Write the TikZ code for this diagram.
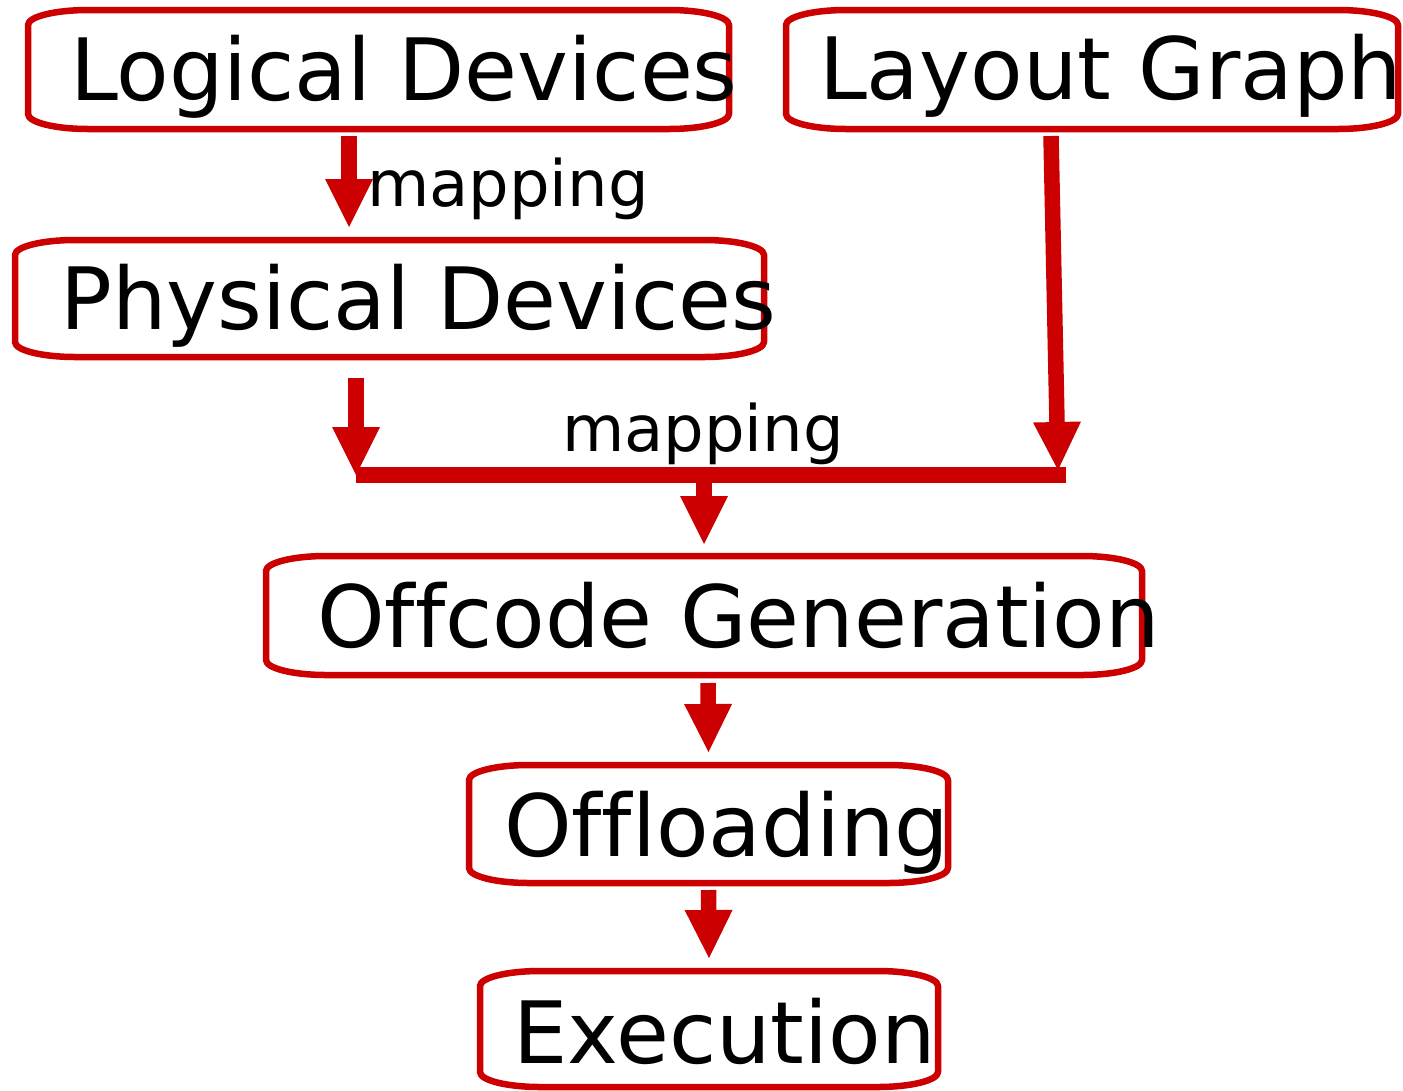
\documentclass[tikz,border=0pt]{standalone}
\usepackage{fontspec}
\setmainfont[Ligatures={NoCommon}]{DejaVu Sans}
\usetikzlibrary{arrows.meta,calc}
\definecolor{dred}{HTML}{CC0000}
\tikzset{
  boxline/.style={draw=dred, line width=6.5pt, line join=round},
  bigtext/.style={inner sep=0pt, outer sep=0pt, anchor=base west, text=black, font=\fontsize{86}{100}\selectfont},
  smalltext/.style={inner sep=0pt, outer sep=0pt, anchor=base west, text=black, font=\fontsize{64}{76}\selectfont},
  flow/.style={draw=dred, line width=15.5pt, -{Triangle[width=48pt,length=48pt,line width=0pt]}},
  barline/.style={draw=dred, line width=16pt},
}
% elliptical-cornered box: name, x1, y1, x2, y2 (y grows downward)
\newcommand\ebox[5]{%
  \pgfmathsetmacro\eboxw{#4-#2}%
  \pgfmathsetmacro\eboxh{#5-#3}%
  \node[inner sep=0pt, outer sep=0pt, minimum width=\eboxw pt, minimum height=\eboxh pt] (#1) at ({(#2+#4)/2},{(#3+#5)/2}) {};
  \draw[boxline] (#2,{#3+15}) -- (#2,{#5-15})
     .. controls (#2,{#5-6.7}) and ({#2+26.9},#5) .. ({#2+60},#5)
     -- ({#4-60},#5)
     .. controls ({#4-26.9},#5) and (#4,{#5-6.7}) .. (#4,{#5-15})
     -- (#4,{#3+15})
     .. controls (#4,{#3+6.7}) and ({#4-26.9},#3) .. ({#4-60},#3)
     -- ({#2+60},#3)
     .. controls ({#2+26.9},#3) and (#2,{#3+6.7}) .. cycle;
}
\begin{document}
\begin{tikzpicture}[x=1pt, y=-1pt]
\useasboundingbox (0,0) rectangle (1403,1090);

\ebox{ld}{28}{10}{729}{129}
\ebox{lg}{786}{10}{1398}{129}
\ebox{pd}{15}{240}{764}{357}
\ebox{og}{266}{556}{1142}{675}
\ebox{ol}{469}{765}{948}{883}
\ebox{ex}{480}{971}{938}{1087}

\node[bigtext] (tld) at (70,100) {Logical Devices};
\node[bigtext] (tlg) at (819,99) {Layout Graph};
\node[bigtext] (tpd) at (60.5,329) {Physical Devices};
\node[bigtext] (tog) at (317.2,647) {Offcode Generation};
\node[bigtext] (tol) at (504,856) {Offloading};
\node[bigtext] (tex) at (513.5,1063) {Execution};

\node[smalltext] (m1) at (367,206) {mapping};
\node[smalltext] (m2) at (562,451) {mapping};

\coordinate (jl) at (356,475);
\coordinate (jm) at (704,475);
\coordinate (jr) at (1066,475);

\draw[flow] ($(ld.south west)+(321,7)$) -- ($(pd.north west)+(334,-13)$);
\draw[flow] ($(pd.south west)+(341,21)$) -- (jl);
\draw[flow] ($(lg.south west)+(265,7)$) -- ($(jr)+(-8,-5)$);
\draw[barline] (jl) -- (jr);
\draw[flow] (jm) -- ($(og.north)+(0,-12)$);
\draw[flow] ($(og.south)+(4,8)$) -- ($(ol.north)+(0,-13)$);
\draw[flow] ($(ol.south)+(0,7)$) -- ($(ex.north)+(0,-13)$);
\end{tikzpicture}
\end{document}
